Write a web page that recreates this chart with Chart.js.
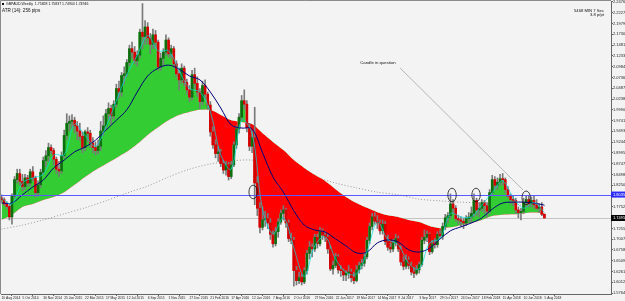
<!DOCTYPE html>
<html>
<head>
<meta charset="utf-8">
<script src="https://cdn.jsdelivr.net/npm/chart.js@4.4.1/dist/chart.umd.min.js"></script>
<style>
html,body{margin:0;padding:0;background:#f3f3f3;overflow:hidden}
canvas{display:block}
</style>
</head>
<body>
<canvas id="c" width="625" height="301" style="width:625px;height:301px"></canvas>
<script>
// ---- weekly GBPAUD candles (week index 0 = 10 Aug 2014) ----
const openP = [
1.796,1.792,1.782,1.776,1.752,1.800,1.838,1.852,1.834,1.822,
1.842,1.830,1.856,1.842,1.808,1.826,1.855,1.882,1.893,1.912,
1.905,1.885,1.862,1.858,1.893,1.940,1.968,1.972,1.975,1.962,
1.950,1.938,1.912,1.948,1.945,1.922,1.912,1.905,1.915,1.950,
1.962,1.990,2.002,1.985,2.012,2.048,2.040,2.078,2.082,2.108,
2.140,2.132,2.112,2.125,2.178,2.168,2.190,2.165,2.150,2.172,
2.155,2.098,2.118,2.132,2.160,2.128,2.140,2.105,2.082,2.068,
2.095,2.062,2.045,2.028,2.080,2.060,2.040,2.018,2.055,2.035,
2.010,1.948,1.918,1.898,1.902,1.875,1.860,1.872,1.845,1.872,
1.918,1.955,1.982,2.020,2.012,1.958,1.915,1.935,1.830,1.772,
1.728,1.745,1.748,1.738,1.712,1.690,1.718,1.740,1.760,1.768,
1.738,1.702,1.698,1.628,1.605,1.612,1.602,1.628,1.668,1.682,
1.678,1.705,1.690,1.718,1.710,1.705,1.678,1.632,1.640,1.660,
1.630,1.628,1.618,1.622,1.625,1.612,1.605,1.630,1.640,1.645,
1.660,1.698,1.730,1.752,1.742,1.738,1.720,1.735,1.695,1.682,
1.678,1.692,1.702,1.678,1.648,1.638,1.652,1.640,1.625,1.622,
1.630,1.642,1.698,1.705,1.712,1.672,1.690,1.688,1.712,1.708,
1.730,1.750,1.755,1.782,1.772,1.748,1.745,1.742,1.738,1.748,
1.752,1.760,1.790,1.768,1.772,1.785,1.778,1.765,1.808,1.838,
1.825,1.832,1.840,1.838,1.815,1.800,1.792,1.790,1.768,1.762,
1.765,1.785,1.792,1.782,1.790,1.780,1.772,1.775,1.75828];
const highP = [
1.803,1.796,1.787,1.781,1.805,1.845,1.862,1.862,1.850,1.850,
1.848,1.862,1.868,1.846,1.835,1.862,1.890,1.905,1.922,1.918,
1.910,1.890,1.880,1.902,1.952,1.990,1.985,1.988,1.982,1.972,
1.968,1.948,1.952,1.958,1.952,1.935,1.925,1.930,1.972,1.985,
2.000,2.015,2.010,2.020,2.058,2.065,2.085,2.098,2.115,2.148,
2.155,2.145,2.135,2.185,2.244,2.205,2.200,2.175,2.185,2.182,
2.160,2.130,2.140,2.172,2.165,2.148,2.145,2.112,2.095,2.105,
2.100,2.070,2.055,2.090,2.095,2.075,2.048,2.065,2.068,2.040,
2.018,1.960,1.930,1.915,1.908,1.882,1.880,1.878,1.880,1.925,
1.962,1.990,2.032,2.045,2.020,1.968,1.950,2.005,1.845,1.785,
1.775,1.765,1.760,1.748,1.720,1.728,1.748,1.768,1.778,1.772,
1.745,1.715,1.705,1.638,1.625,1.620,1.635,1.675,1.695,1.690,
1.712,1.712,1.728,1.725,1.718,1.712,1.685,1.650,1.668,1.665,
1.640,1.632,1.628,1.640,1.632,1.625,1.640,1.648,1.655,1.668,
1.705,1.738,1.760,1.762,1.755,1.745,1.745,1.742,1.710,1.692,
1.700,1.712,1.708,1.685,1.660,1.665,1.660,1.648,1.635,1.640,
1.648,1.705,1.722,1.720,1.715,1.698,1.702,1.718,1.722,1.738,
1.758,1.762,1.805,1.792,1.778,1.756,1.752,1.748,1.755,1.762,
1.775,1.805,1.795,1.785,1.792,1.790,1.785,1.815,1.848,1.845,
1.842,1.850,1.852,1.842,1.822,1.805,1.800,1.795,1.775,1.772,
1.795,1.800,1.800,1.798,1.800,1.792,1.782,1.785,1.75837];
const lowP = [
1.786,1.778,1.770,1.745,1.735,1.795,1.830,1.825,1.812,1.815,
1.822,1.822,1.835,1.798,1.800,1.820,1.850,1.868,1.880,1.898,
1.872,1.852,1.845,1.852,1.888,1.930,1.950,1.955,1.945,1.930,
1.928,1.900,1.905,1.925,1.912,1.900,1.895,1.898,1.905,1.940,
1.955,1.975,1.965,1.978,2.005,2.025,2.030,2.058,2.075,2.100,
2.118,2.105,2.100,2.118,2.140,2.150,2.150,2.128,2.140,2.140,
2.090,2.090,2.100,2.125,2.120,2.118,2.095,2.075,2.045,2.060,
2.055,2.035,2.018,2.022,2.048,2.030,2.002,2.010,2.025,2.000,
1.938,1.910,1.888,1.880,1.868,1.852,1.848,1.837,1.840,1.868,
1.910,1.945,1.975,2.000,1.948,1.905,1.900,1.780,1.755,1.715,
1.722,1.730,1.725,1.700,1.682,1.685,1.705,1.735,1.745,1.728,
1.695,1.690,1.592,1.595,1.598,1.595,1.598,1.620,1.655,1.660,
1.672,1.680,1.685,1.700,1.695,1.668,1.628,1.620,1.635,1.622,
1.615,1.605,1.605,1.610,1.602,1.598,1.602,1.622,1.632,1.638,
1.655,1.690,1.722,1.735,1.725,1.712,1.712,1.688,1.675,1.670,
1.672,1.685,1.672,1.640,1.630,1.632,1.632,1.618,1.612,1.618,
1.622,1.638,1.690,1.695,1.665,1.668,1.680,1.682,1.702,1.700,
1.722,1.738,1.748,1.760,1.742,1.735,1.730,1.725,1.732,1.740,
1.738,1.752,1.755,1.752,1.765,1.760,1.752,1.760,1.802,1.815,
1.815,1.825,1.825,1.808,1.795,1.782,1.778,1.760,1.750,1.745,
1.760,1.775,1.775,1.775,1.772,1.768,1.762,1.755,1.74944];
const closeP = [
1.792,1.782,1.776,1.752,1.800,1.838,1.852,1.834,1.822,1.842,
1.830,1.856,1.842,1.808,1.826,1.855,1.882,1.893,1.912,1.905,
1.885,1.862,1.858,1.893,1.940,1.968,1.972,1.975,1.962,1.950,
1.938,1.912,1.948,1.945,1.922,1.912,1.905,1.915,1.950,1.962,
1.990,2.002,1.985,2.012,2.048,2.040,2.078,2.082,2.108,2.140,
2.132,2.112,2.125,2.178,2.168,2.190,2.165,2.150,2.172,2.155,
2.098,2.118,2.132,2.160,2.128,2.140,2.105,2.082,2.068,2.095,
2.062,2.045,2.028,2.080,2.060,2.040,2.018,2.055,2.035,2.010,
1.948,1.918,1.898,1.902,1.875,1.860,1.872,1.845,1.872,1.918,
1.955,1.982,2.020,2.012,1.958,1.915,1.935,1.830,1.772,1.728,
1.745,1.748,1.738,1.712,1.690,1.718,1.740,1.760,1.768,1.738,
1.702,1.698,1.628,1.605,1.612,1.602,1.628,1.668,1.682,1.678,
1.705,1.690,1.718,1.710,1.705,1.678,1.632,1.640,1.660,1.630,
1.628,1.618,1.622,1.625,1.612,1.605,1.630,1.640,1.645,1.660,
1.698,1.730,1.752,1.742,1.738,1.720,1.735,1.695,1.682,1.678,
1.692,1.702,1.678,1.648,1.638,1.652,1.640,1.625,1.622,1.630,
1.642,1.698,1.705,1.712,1.672,1.690,1.688,1.712,1.708,1.730,
1.750,1.755,1.782,1.772,1.748,1.745,1.742,1.738,1.748,1.752,
1.760,1.790,1.768,1.772,1.785,1.778,1.765,1.808,1.838,1.825,
1.832,1.840,1.838,1.815,1.800,1.792,1.790,1.768,1.762,1.765,
1.785,1.792,1.782,1.790,1.780,1.772,1.775,1.758,1.74946];

// ---- indicator lines (one value every 4 weeks) ----
const slowMA = [
1.745,1.757,1.775,1.782,1.791,1.798,1.809,1.826,1.844,1.860,
1.874,1.888,1.902,1.920,1.941,1.959,1.975,1.987,1.994,1.999,
1.999,1.987,1.975,1.971,1.966,1.945,1.925,1.906,1.883,1.865,
1.849,1.835,1.816,1.798,1.784,1.773,1.763,1.756,1.752,1.745,
1.740,1.731,1.726,1.728,1.733,1.738,1.745,1.754,1.757,1.758,
1.760,1.762,1.760];
const midMA = [
1.784,1.784,1.803,1.821,1.837,1.865,1.883,1.902,1.913,1.929,
1.952,1.975,1.999,2.040,2.077,2.095,2.102,2.093,2.077,2.068,
2.040,2.003,1.964,1.957,1.955,1.900,1.844,1.809,1.766,1.733,
1.722,1.717,1.701,1.685,1.669,1.671,1.692,1.699,1.694,1.676,
1.671,1.680,1.701,1.720,1.729,1.738,1.7495,1.770,1.784,1.786,
1.786,1.784,1.779];
const fastMA = [
1.795,1.782,1.830,1.842,1.850,1.895,1.895,1.966,1.940,1.915,
1.960,2.020,2.080,2.125,2.170,2.135,2.135,2.090,2.048,2.040,
1.995,1.895,1.862,1.975,1.945,1.770,1.712,1.750,1.680,1.615,
1.685,1.706,1.655,1.624,1.620,1.672,1.740,1.700,1.688,1.645,
1.632,1.692,1.702,1.760,1.752,1.752,1.779,1.808,1.835,1.797,
1.772,1.785,1.762];
// long MA (dotted), one value every 8 weeks
const longMA = [
1.724,1.733,1.745,1.759,1.773,1.789,1.807,1.823,1.844,1.862,
1.874,1.881,1.883,1.872,1.858,1.844,1.830,1.819,1.809,1.803,
1.793,1.789,1.786,1.784,1.782,1.779,1.777];

// ---- axis labels ----
const dateLabels = ["10 Aug 2014","5 Oct 2014","30 Nov 2014","25 Jan 2015","22 Mar 2015","17 May 2015",
"12 Jul 2015","6 Sep 2015","1 Nov 2015","27 Dec 2015","21 Feb 2016","17 Apr 2016","12 Jun 2016",
"7 Aug 2016","2 Oct 2016","27 Nov 2016","22 Jan 2017","19 Mar 2017","14 May 2017","9 Jul 2017",
"3 Sep 2017","29 Oct 2017","24 Dec 2017","18 Feb 2018","15 Apr 2018","10 Jun 2018","5 Aug 2018"];
const priceTicks = [2.2476,2.2227,2.1979,2.1730,2.1481,2.1233,2.0984,2.0736,2.0487,2.0238,
1.9990,1.9741,1.9493,1.9244,1.8995,1.8747,1.8498,1.8250,1.8001,1.7752,
1.7504,1.7255,1.7007,1.6758,1.6509,1.6261,1.6012,1.5764];

// ---- annotations ----
const resistancePrice = 1.8035;
const bidPrice = 1.7495;
const circleMarks = [[96.4,1.8095],[172.6,1.8025],[181.8,1.8025],[201.0,1.7960]];
const noteText = "Candle in question";
const notePos = [137.4, 2.1065];
const noteLine = [[152.7, 2.0954],[199.8, 1.8141]];
const headerText = "GBPAUD,Weekly  1.75828 1.75837 1.74944 1.74946";
const atrText = "ATR (14): 256 pips";
const timerText = ["5468 MIN 7 Sec", "3.8 p/pt"];

// ---- styling ----
const BG = '#f3f3f3';
const FONT = "'Liberation Sans', Arial, sans-serif";
const BULL = '#0e6e0e', BEAR = '#d40000';

const wickData = closeP.map((c, i) => ({x: i, y: [lowP[i], highP[i]]}));
const bodyData = closeP.map((c, i) => ({x: i, y: [openP[i], c]}));
const bodyColors = closeP.map((c, i) => c >= openP[i] ? BULL : BEAR);
const every = (arr, step) => arr.map((v, k) => ({x: k * step, y: v}));

const overlay = {
  id: 'overlay',
  beforeDraw(chart) {
    const c = chart.ctx;
    c.save(); c.fillStyle = BG; c.fillRect(0, 0, chart.width, chart.height); c.restore();
  },
  beforeDatasetsDraw(chart) {
    const {ctx, chartArea: a, scales: {y}} = chart;
    const yb = Math.round(y.getPixelForValue(bidPrice)) + 0.5;
    ctx.save();
    ctx.strokeStyle = '#c4c4c4'; ctx.lineWidth = 1;
    ctx.beginPath(); ctx.moveTo(a.left, yb); ctx.lineTo(a.right, yb); ctx.stroke();
    ctx.restore();
  },
  afterDatasetsDraw(chart) {
    const {ctx, chartArea: a, scales: {x, y}} = chart;
    ctx.save();
    const yr = Math.round(y.getPixelForValue(resistancePrice)) + 0.5;
    ctx.strokeStyle = '#5a5aff'; ctx.lineWidth = 1;
    ctx.beginPath(); ctx.moveTo(a.left, yr); ctx.lineTo(a.right, yr); ctx.stroke();
    ctx.strokeStyle = '#111'; ctx.lineWidth = 0.8;
    circleMarks.forEach(([i, p]) => {
      ctx.beginPath();
      ctx.ellipse(x.getPixelForValue(i), y.getPixelForValue(p), 4.2, 6.8, 0, 0, Math.PI * 2);
      ctx.stroke();
    });
    ctx.strokeStyle = '#9c9c9c'; ctx.lineWidth = 0.7;
    ctx.beginPath();
    ctx.moveTo(x.getPixelForValue(noteLine[0][0]), y.getPixelForValue(noteLine[0][1]));
    ctx.lineTo(x.getPixelForValue(noteLine[1][0]), y.getPixelForValue(noteLine[1][1]));
    ctx.stroke();
    ctx.fillStyle = '#111'; ctx.font = '4.3px ' + FONT;
    ctx.textBaseline = 'middle'; ctx.textAlign = 'left';
    ctx.fillText(noteText, x.getPixelForValue(notePos[0]), y.getPixelForValue(notePos[1]));
    ctx.restore();
  },
  afterDraw(chart) {
    const {ctx, chartArea: a, scales: {y}} = chart;
    ctx.save();
    ctx.strokeStyle = '#8a8a8a'; ctx.lineWidth = 1;
    ctx.beginPath();
    ctx.moveTo(a.left - 0.5, a.bottom); ctx.lineTo(a.left - 0.5, a.top - 0.5); ctx.lineTo(a.right, a.top - 0.5);
    ctx.stroke();
    // header
    ctx.fillStyle = '#111'; ctx.fillRect(2, 3, 2, 2);
    ctx.textBaseline = 'middle'; ctx.textAlign = 'left';
    ctx.font = '3.5px ' + FONT; ctx.fillText(headerText, 6, 4.5);
    ctx.font = '4.6px ' + FONT; ctx.fillText(atrText, 2, 11);
    ctx.textAlign = 'right'; ctx.font = '4.2px ' + FONT;
    ctx.fillText(timerText[0], 604, 10.5);
    ctx.fillText(timerText[1], 604, 15);
    // price labels on axis
    const lab = (p, bg) => {
      const py = y.getPixelForValue(p);
      ctx.fillStyle = bg; ctx.fillRect(a.right, py - 3, 625 - a.right, 6);
      ctx.fillStyle = '#fff'; ctx.textAlign = 'left'; ctx.font = '4px ' + FONT;
      ctx.fillText(p.toFixed(4), a.right + 2, py + 0.3);
    };
    lab(resistancePrice, '#2b2bff');
    lab(bidPrice, '#000');
    ctx.restore();
  }
};

new Chart(document.getElementById('c'), {
  type: 'line',
  data: {
    datasets: [
      {type: 'line', data: every(longMA, 8), borderColor: '#9a9a9a', borderWidth: 1, borderDash: [1, 2],
       pointRadius: 0, tension: 0.3, fill: false, order: 10},
      {type: 'line', data: every(slowMA, 4), borderColor: 'rgba(0,0,0,0)', borderWidth: 0,
       pointRadius: 0, tension: 0.3, fill: false, order: 9},
      {type: 'line', data: closeP.map((c, i) => ({x: i, y: c})), borderColor: 'rgba(0,0,0,0)', borderWidth: 0,
       pointRadius: 0, stepped: 'middle', fill: {target: 1, above: '#33cc33', below: '#ff0000'}, order: 8},
      {type: 'bar', data: wickData, backgroundColor: '#7a7a7a', barThickness: 1, maxBarThickness: 1,
       grouped: false, borderWidth: 0, order: 6},
      {type: 'bar', data: bodyData, backgroundColor: bodyColors, barThickness: 2, maxBarThickness: 2,
       grouped: false, borderWidth: 0, minBarLength: 1, order: 5},
      {type: 'line', data: every(midMA, 4), borderColor: '#00007a', borderWidth: 1, pointRadius: 0,
       tension: 0.35, fill: false, order: 3},
      {type: 'line', data: every(fastMA, 4), borderColor: 'rgba(0,225,225,0.7)', borderWidth: 1, pointRadius: 0,
       tension: 0.35, fill: false, order: 2}
    ]
  },
  options: {
    responsive: false,
    devicePixelRatio: 1,
    animation: false,
    events: [],
    layout: {padding: {left: 1, top: 1, right: 0, bottom: 0}},
    plugins: {legend: {display: false}, tooltip: {enabled: false}},
    scales: {
      x: {
        type: 'linear', position: 'bottom', min: -0.2, max: 233.5, offset: false,
        grid: {display: true, drawOnChartArea: false, drawTicks: true, tickLength: 2, color: '#666'},
        border: {display: true, color: '#666'},
        ticks: {font: {size: 3.3, family: FONT}, color: '#222', padding: 0, maxRotation: 0, minRotation: 0,
                autoSkip: false, align: 'start', callback: (v, k) => dateLabels[k]},
        afterBuildTicks: s => { s.ticks = dateLabels.map((_, k) => ({value: k * 8})); },
        afterFit: s => { s.height = 7; s.paddingLeft = 0; s.paddingRight = 0; }
      },
      y: {
        type: 'linear', position: 'right', min: 1.5742, max: 2.2499,
        grid: {display: true, drawOnChartArea: false, drawTicks: true, tickLength: 2, color: '#666'},
        border: {display: true, color: '#666'},
        ticks: {font: {size: 4, family: FONT}, color: '#222', padding: 0, autoSkip: false,
                callback: (v, k) => priceTicks[k].toFixed(4)},
        afterBuildTicks: s => { s.ticks = priceTicks.map(v => ({value: v})); },
        afterFit: s => { s.width = 14; s.paddingTop = 0; s.paddingBottom = 0; }
      }
    }
  },
  plugins: [overlay]
});
</script>
</body>
</html>
